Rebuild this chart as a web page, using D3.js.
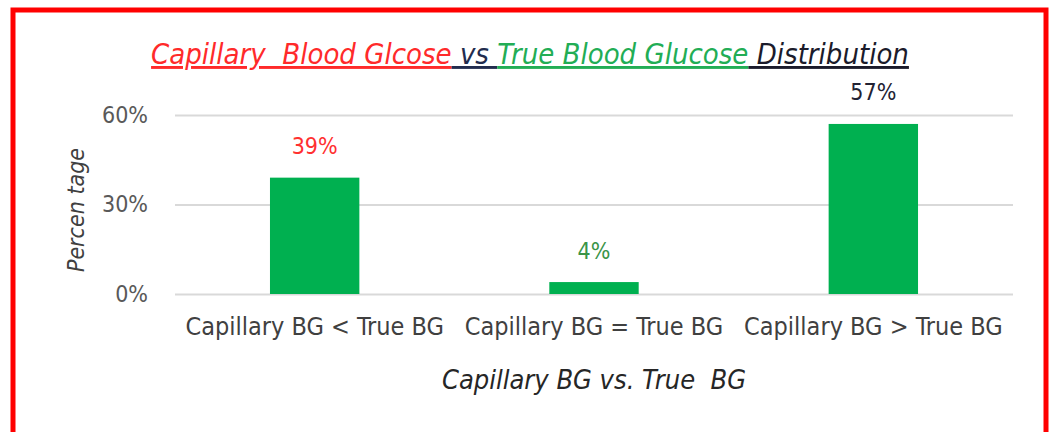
<!DOCTYPE html>
<html>
<head>
<meta charset="utf-8">
<script src="https://cdn.jsdelivr.net/npm/d3@7"></script>
<style>
  body { margin: 0; background: #fff; }
  text { white-space: pre; }
</style>
</head>
<body>
<div id="chart"></div>
<script>
// data
const categories = ["Capillary BG < True BG", "Capillary BG = True BG", "Capillary BG > True BG"];
const values = [0.39, 0.04, 0.57];
const valueLabels = ["39%", "4%", "57%"];
const yTicks = [0, 0.3, 0.6];

const titleParts = [
  { text: "Capillary  Blood Glcose", color: "#ff2a2a" },
  { text: " vs ", color: "#222c4e" },
  { text: "True Blood Glucose", color: "#22ad55" },
  { text: " Distribution", color: "#1b1b2b" }
];

const labelColors = ["#ff3030", "#3a9448", "#222233"];
const green = "#00b050";
const font = "'Liberation Sans Narrow', 'DejaVu Sans Condensed', 'Arial Narrow', sans-serif";

const width = 1052;
const height = 432;
const marginTop = 115;
const marginBottom = 138;
const marginLeft = 175;
const marginRight = 39;

const svg = d3.select("#chart").append("svg")
    .attr("width", width)
    .attr("height", height)
    .style("font-family", font);

// red frame
svg.append("rect")
    .attr("x", 13).attr("y", 10)
    .attr("width", 1033).attr("height", 440)
    .attr("fill", "none")
    .attr("stroke", "#ff0000")
    .attr("stroke-width", 5);

const x = d3.scaleBand()
    .domain(categories)
    .range([marginLeft, width - marginRight])
    .paddingInner(0.68)
    .paddingOuter(0.34);

const y = d3.scaleLinear()
    .domain([0, 0.6])
    .range([height - marginBottom, marginTop]);

// gridlines + y tick labels
const yAxis = svg.append("g")
    .attr("transform", `translate(${marginLeft},0)`)
    .call(d3.axisLeft(y)
      .tickValues(yTicks)
      .tickFormat(d3.format(".0%"))
      .tickSize(-(width - marginLeft - marginRight))
      .tickPadding(27));
yAxis.select(".domain").remove();
yAxis.selectAll("line").attr("stroke", "#d9d9d9").attr("stroke-width", 2);
yAxis.selectAll("text")
    .style("font-family", font)
    .style("font-size", "23px")
    .attr("fill", "#595959");

// bars
svg.append("g")
  .selectAll("rect")
  .data(values)
  .join("rect")
    .attr("x", (d, i) => x(categories[i]))
    .attr("y", d => y(d))
    .attr("width", x.bandwidth())
    .attr("height", d => y(0) - y(d))
    .attr("fill", green);

// value labels
svg.append("g")
  .selectAll("text")
  .data(values)
  .join("text")
    .attr("x", (d, i) => x(categories[i]) + x.bandwidth() / 2)
    .attr("y", d => y(d) - 30)
    .attr("text-anchor", "middle")
    .attr("dominant-baseline", "middle")
    .attr("fill", (d, i) => labelColors[i])
    .style("font-size", "23px")
    .text((d, i) => valueLabels[i]);

// category axis
const xAxis = svg.append("g")
    .attr("transform", `translate(0,${y(0)})`)
    .call(d3.axisBottom(x).tickSize(0).tickPadding(23));
xAxis.select(".domain").remove();
xAxis.selectAll("text")
    .style("font-family", font)
    .style("font-size", "25px")
    .attr("fill", "#404040");

// axis titles
svg.append("text")
    .attr("x", (marginLeft + width - marginRight) / 2)
    .attr("y", 381)
    .attr("text-anchor", "middle")
    .attr("dominant-baseline", "middle")
    .attr("fill", "#262626")
    .style("font-style", "italic")
    .style("font-size", "27px")
    .text("Capillary BG vs. True  BG");

svg.append("text")
    .attr("transform", "translate(77,210) rotate(-90)")
    .attr("text-anchor", "middle")
    .attr("dominant-baseline", "middle")
    .attr("fill", "#404040")
    .style("font-style", "italic")
    .style("font-size", "23px")
    .text("Percen tage");

// title with coloured underlined parts
const title = svg.append("text")
    .attr("x", 530)
    .attr("y", 64)
    .attr("text-anchor", "middle")
    .style("font-style", "italic")
    .style("font-size", "29px");
title.selectAll("tspan")
  .data(titleParts)
  .join("tspan")
    .attr("fill", d => d.color)
    .style("text-decoration", "underline")
    .text(d => d.text);
</script>
</body>
</html>
